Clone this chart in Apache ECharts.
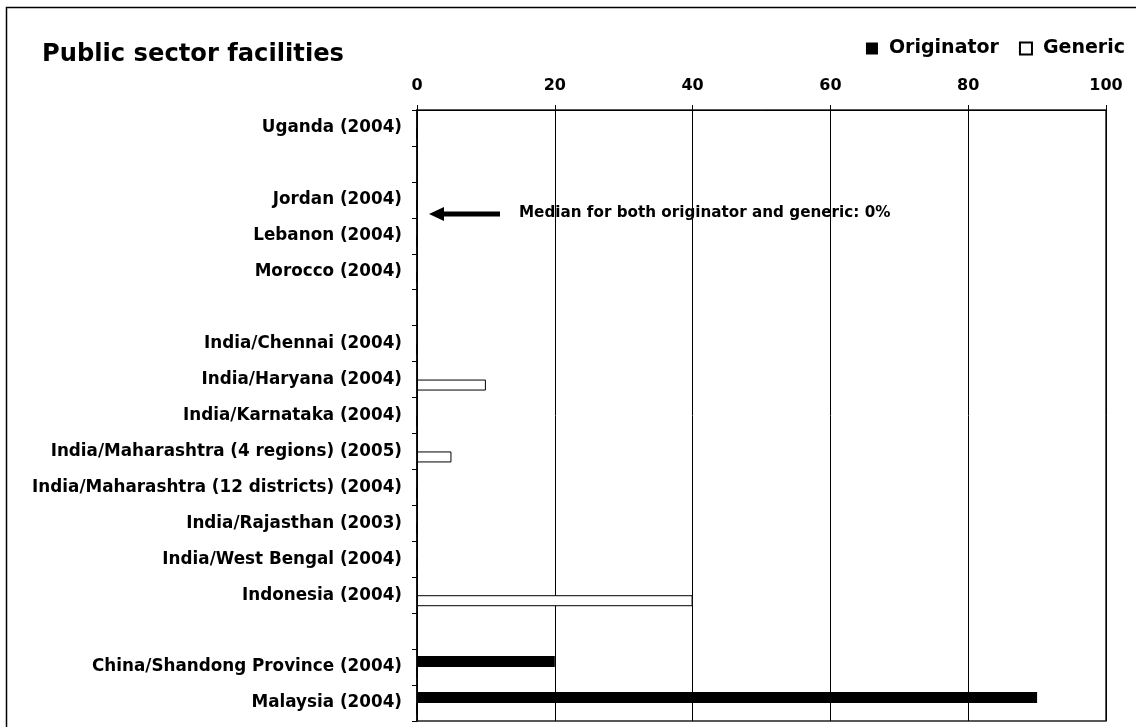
<!DOCTYPE html>
<html>
<head>
<meta charset="utf-8">
<script src="https://cdn.jsdelivr.net/npm/echarts@6/dist/echarts.min.js"></script>
<style>
    html, body { margin: 0; padding: 0; background: #fff; }
    #main { width: 1136px; height: 727px; }
</style>
</head>
<body>
<div id="main"></div>
<script>
// rows top to bottom, blank strings are the spacer rows
var categories = [
    'Uganda (2004)', '',
    'Jordan (2004)', 'Lebanon (2004)', 'Morocco (2004)', ' ',
    'India/Chennai (2004)', 'India/Haryana (2004)', 'India/Karnataka (2004)',
    'India/Maharashtra (4 regions) (2005)', 'India/Maharashtra (12 districts) (2004)',
    'India/Rajasthan (2003)', 'India/West Bengal (2004)', 'Indonesia (2004)', '  ',
    'China/Shandong Province (2004)', 'Malaysia (2004)'
];
var originator = [0, null, 0, 0, 0, null, 0, 0, 0, 0, 0, 0, 0, 0, null, 20, 90];
var generic = [0, null, 0, 0, 0, null, 0, 10, 0, 5, 0, 0, 0, 40, null, 0, 0];
var xTicks = [0, 20, 40, 60, 80, 100];

var font = '"DejaVu Sans", Verdana, sans-serif';
var myChart = echarts.init(document.getElementById('main'));
myChart.setOption({
    animation: false,
    title: {
        text: 'Public sector facilities',
        left: 37,
        top: 38,
        textStyle: {
            fontFamily: font,
            fontSize: 24.2,
            fontWeight: 'bold',
            color: '#000'
        }
    },
    legend: {
        right: 6,
        top: 34,
        itemWidth: 12,
        itemHeight: 12,
        itemGap: 20,
        icon: 'rect',
        textStyle: {
            fontFamily: font,
            fontSize: 19,
            fontWeight: 'bold',
            color: '#000',
            padding: [0, 0, 0, 6]
        },
        data: ['Originator', 'Generic']
    },
    grid: {
        left: 417,
        right: 30,
        top: 110,
        bottom: 6,
        show: true,
        borderColor: '#222',
        borderWidth: 1.5,
        backgroundColor: 'transparent'
    },
    xAxis: {
        type: 'value',
        position: 'top',
        min: xTicks[0],
        max: xTicks[xTicks.length - 1],
        interval: 20,
        axisLine: {
            show: true,
            lineStyle: {
                color: '#000'
            }
        },
        axisTick: {
            show: true,
            length: 5,
            lineStyle: {
                color: '#000'
            }
        },
        axisLabel: {
            margin: 16,
            color: '#000',
            fontFamily: font,
            fontSize: 16,
            fontWeight: 'bold'
        },
        splitLine: {
            show: true,
            lineStyle: {
                color: '#000',
                width: 1
            }
        }
    },
    yAxis: {
        type: 'category',
        inverse: true,
        data: categories,
        axisLine: {
            show: true,
            lineStyle: {
                color: '#000',
                width: 1.5
            }
        },
        axisTick: {
            show: true,
            length: 5,
            lineStyle: {
                color: '#000'
            }
        },
        axisLabel: {
            margin: 15,
            color: '#000',
            fontFamily: font,
            fontSize: 16.8,
            fontWeight: 'bold',
            padding: [4, 0, 0, 0]
        }
    },
    series: [
        {
            name: 'Originator',
            type: 'bar',
            data: originator,
            barWidth: 11,
            barGap: '0',
            itemStyle: {
                color: '#000'
            }
        },
        {
            name: 'Generic',
            type: 'bar',
            data: generic,
            barWidth: 11,
            itemStyle: {
                color: '#fff',
                borderColor: '#000',
                borderWidth: 1
            }
        }
    ],
    graphic: [
        // outer frame, cut off at right and bottom like the original
        {
            type: 'rect',
            shape: {x: 6.5, y: 7.5, width: 1140, height: 730},
            style: {fill: 'none', stroke: '#000', lineWidth: 1.5},
            silent: true
        },
        // median note with arrow
        {
            type: 'line',
            shape: {x1: 500, y1: 214, x2: 441, y2: 214},
            style: {stroke: '#000', lineWidth: 5},
            z: 10
        },
        {
            type: 'polygon',
            shape: {points: [[429, 214], [444, 207], [444, 221]]},
            style: {fill: '#000'},
            z: 10
        },
        {
            type: 'text',
            x: 519,
            y: 213,
            style: {
                text: 'Median for both originator and generic: 0%',
                fontFamily: font,
                fontSize: 15.2,
                fontWeight: 'bold',
                fill: '#000',
                verticalAlign: 'middle'
            },
            z: 10
        }
    ]
});
</script>
</body>
</html>
